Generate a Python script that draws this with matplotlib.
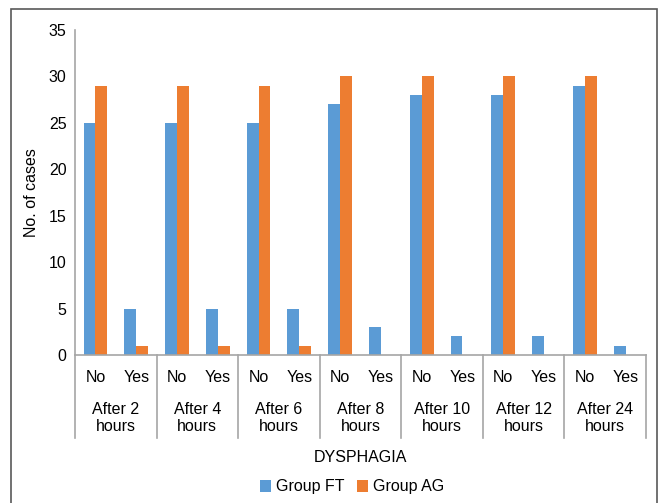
import numpy as np
import matplotlib.pyplot as plt
import matplotlib.transforms as mtransforms
from matplotlib.patches import Rectangle

plt.rcParams['font.family'] = ['Liberation Sans', 'DejaVu Sans']

# data
groups = ['After 2\nhours', 'After 4\nhours', 'After 6\nhours', 'After 8\nhours',
          'After 10\nhours', 'After 12\nhours', 'After 24\nhours']
answers = ['No', 'Yes']
group_ft = [25, 5, 25, 5, 25, 5, 27, 3, 28, 2, 28, 2, 29, 1]
group_ag = [29, 1, 29, 1, 29, 1, 30, 0, 30, 0, 30, 0, 30, 0]

BLUE = '#5b9bd5'
ORANGE = '#ed7d31'
GRAY = '#a6a6a6'
FS = 11.5

fig = plt.figure(figsize=(6.59, 5.03), dpi=100)
ax = fig.add_axes([75/659, 148/503, 571/659, 325/503])

n = len(group_ft)
x = np.arange(n)
w = 0.29
ax.bar(x - w/2, group_ft, w, color=BLUE, label='Group FT')
ax.bar(x + w/2, group_ag, w, color=ORANGE, label='Group AG')

ax.set_xlim(-0.5, n - 0.5)
ax.set_ylim(0, 35)
ax.set_yticks(range(0, 36, 5))
ax.tick_params(axis='y', length=0, labelsize=FS, pad=6)
ax.set_xticks([])
for s in ['top', 'right']:
    ax.spines[s].set_visible(False)
for s in ['left', 'bottom']:
    ax.spines[s].set_color(GRAY)
    ax.spines[s].set_linewidth(1.2)
ax.set_ylabel('No. of cases', fontsize=FS, labelpad=7)

# multi-level category axis
trans = mtransforms.blended_transform_factory(ax.transData, ax.transAxes)
low = -(438 - 355) / 325
for k in range(len(groups) + 1):
    xs = 2 * k - 0.5
    ax.plot([xs, xs], [0, low], color=GRAY, lw=1.2, transform=trans, clip_on=False)
for i in range(n):
    ax.text(i, -(377 - 355) / 325, answers[i % 2], transform=trans,
            ha='center', va='center', fontsize=FS)
for k, g in enumerate(groups):
    ax.text(2 * k + 0.5, -(418 - 355) / 325, g, transform=trans,
            ha='center', va='center', fontsize=FS, linespacing=1.15)

fig.text(360/659, 1 - 458/503, 'DYSPHAGIA', ha='center', va='center', fontsize=FS)
fig.legend(loc='center', bbox_to_anchor=(352/659, 1 - 487/503), ncol=2, frameon=False,
           fontsize=FS, handlelength=0.7, handleheight=0.7, handletextpad=0.3,
           columnspacing=0.8)

# outer frame
fig.patches.append(Rectangle((11/659, -0.05), 646/659, 1.05 - 9/503, transform=fig.transFigure,
                             fill=False, edgecolor='#595959', lw=1.2))

fig.savefig('out.png', dpi=100)
